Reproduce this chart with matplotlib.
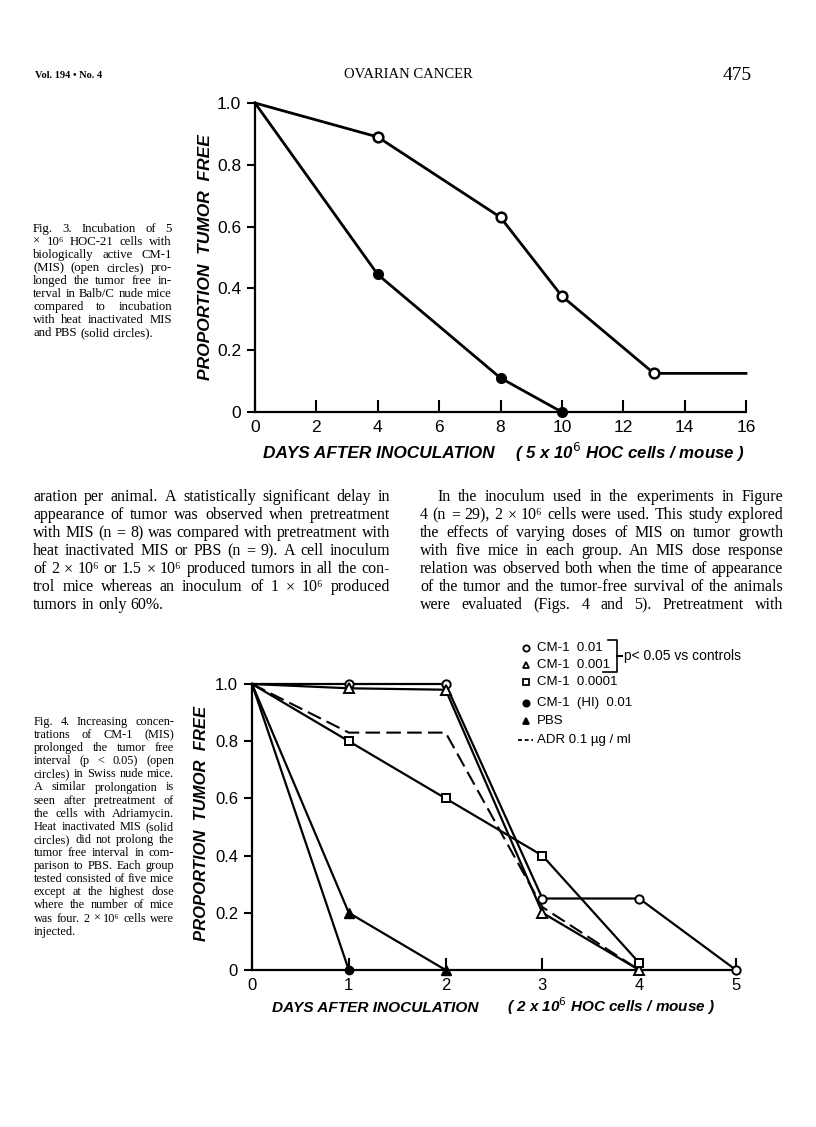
import matplotlib
matplotlib.use("Agg")
import matplotlib.pyplot as plt
import matplotlib.transforms as mtransforms

W, H = 816, 1127

# ---------------- data ----------------
# Fig. 3
f3_days_mis = [0, 4, 8, 10, 13, 16]
f3_prop_mis = [1.0, 0.89, 0.63, 0.375, 0.125, 0.125]
f3_days_ctrl = [0, 4, 8, 10]
f3_prop_ctrl = [1.0, 0.445, 0.11, 0.0]
f3_xticks = [0, 2, 4, 6, 8, 10, 12, 14, 16]

# Fig. 4
f4_days_cm01 = [0, 1, 2, 3, 4, 5]
f4_prop_cm01 = [1.0, 1.0, 1.0, 0.25, 0.25, 0.0]
f4_days_cm001 = [0, 1, 2, 3, 4]
f4_prop_cm001 = [1.0, 0.985, 0.98, 0.2, 0.0]
f4_days_cm0001 = [0, 1, 2, 3, 4]
f4_prop_cm0001 = [1.0, 0.8, 0.6, 0.4, 0.025]
f4_days_hi = [0, 1]
f4_prop_hi = [1.0, 0.0]
f4_days_pbs = [0, 1, 2]
f4_prop_pbs = [1.0, 0.2, 0.0]
f4_days_adr = [0, 1, 2, 3, 4]
f4_prop_adr = [1.0, 0.83, 0.83, 0.22, 0.0]
f4_xticks = [0, 1, 2, 3, 4, 5]

yticks = [0, 0.2, 0.4, 0.6, 0.8, 1.0]
ytick_labels = ["0", "0.2", "0.4", "0.6", "0.8", "1.0"]

legend_labels = ["CM-1  0.01", "CM-1  0.001", "CM-1  0.0001",
                 "CM-1  (HI)  0.01", "PBS", "ADR 0.1 \u00b5g / ml"]
brace_label = "p< 0.05 vs controls"

ylab = "PROPORTION  TUMOR  FREE"
xlab_main = "DAYS AFTER INOCULATION"
xlab3_note = "( 5 x 10$^{6}$ HOC cells / mouse )"
xlab4_note = "( 2 x 10$^{6}$ HOC cells / mouse )"

body_left = [
    "aration per animal. A statistically significant delay in",
    "appearance of tumor was observed when pretreatment",
    "with MIS (n = 8) was compared with pretreatment with",
    "heat inactivated MIS or PBS (n = 9). A cell inoculum",
    "of 2 \u00d7 10\u2076 or 1.5 \u00d7 10\u2076 produced tumors in all the con-",
    "trol mice whereas an inoculum of 1 \u00d7 10\u2076 produced",
    "tumors in only 60%.",
]
body_right = [
    "In the inoculum used in the experiments in Figure",
    "4 (n = 29), 2 \u00d7 10\u2076 cells were used. This study explored",
    "the effects of varying doses of MIS on tumor growth",
    "with five mice in each group. An MIS dose response",
    "relation was observed both when the time of appearance",
    "of the tumor and the tumor-free survival of the animals",
    "were evaluated (Figs. 4 and 5). Pretreatment with",
]
cap3 = [
    "Fig. 3. Incubation of 5",
    "\u00d7 10\u2076 HOC-21 cells with",
    "biologically active CM-1",
    "(MIS) (open circles) pro-",
    "longed the tumor free in-",
    "terval in Balb/C nude mice",
    "compared to incubation",
    "with heat inactivated MIS",
    "and PBS (solid circles).",
]
cap4 = [
    "Fig. 4. Increasing concen-",
    "trations of CM-1 (MIS)",
    "prolonged the tumor free",
    "interval (p < 0.05) (open",
    "circles) in Swiss nude mice.",
    "A similar prolongation is",
    "seen after pretreatment of",
    "the cells with Adriamycin.",
    "Heat inactivated MIS (solid",
    "circles) did not prolong the",
    "tumor free interval in com-",
    "parison to PBS. Each group",
    "tested consisted of five mice",
    "except at the highest dose",
    "where the number of mice",
    "was four. 2 \u00d7 10\u2076 cells were",
    "injected.",
]

# ---------------- figure ----------------
fig = plt.figure(figsize=(W / 100, H / 100), dpi=100)
fig.patch.set_facecolor("white")
PX = mtransforms.Affine2D().scale(1 / W, -1 / H).translate(0, 1) + fig.transFigure
SERIF = ["Liberation Serif", "DejaVu Serif"]
SANS = ["Liberation Sans", "DejaVu Sans"]


def ax_rect(x0, y0, x1, y1):
    return [x0 / W, 1 - y1 / H, (x1 - x0) / W, (y1 - y0) / H]


def style_axes(ax, xlim, xticks, tick_size):
    ax.set_xlim(*xlim)
    ax.set_ylim(0, 1.0)
    for s in ["top", "right"]:
        ax.spines[s].set_visible(False)
    for s in ["left", "bottom"]:
        ax.spines[s].set_linewidth(1.6)
    ax.set_xticks(xticks)
    ax.set_xticklabels([str(t) for t in xticks], family=SANS, fontsize=tick_size)
    ax.set_yticks(yticks)
    ax.set_yticklabels(ytick_labels, family=SANS, fontsize=tick_size)
    ax.tick_params(axis="x", direction="in", length=9, width=1.5, pad=6)
    ax.tick_params(axis="y", direction="out", length=6, width=1.5, pad=4)
    ax.set_facecolor("none")


LABKW = dict(transform=PX, family=SANS, fontweight="bold", style="italic")

# ---------- Fig 3 ----------
ax3 = fig.add_axes(ax_rect(255, 103, 746, 412))
style_axes(ax3, (0, 16), f3_xticks, 12.5)
ax3.plot(f3_days_mis, f3_prop_mis, color="black", lw=2.0, marker="o", ms=7,
         mfc="white", mec="black", mew=1.8, markevery=[1, 2, 3, 4], clip_on=False, zorder=3)
ax3.plot(f3_days_ctrl, f3_prop_ctrl, color="black", lw=2.0, marker="o", ms=7,
         mfc="black", mec="black", markevery=[1, 2, 3], clip_on=False, zorder=3)
fig.text(205, 257, ylab, rotation=90, ha="center", va="center", fontsize=12.5, **LABKW)
fig.text(263, 454, xlab_main, ha="left", va="center", fontsize=12.4, **LABKW)
fig.text(745, 452, xlab3_note, ha="right", va="center", fontsize=12.2, **LABKW)

# ---------- Fig 4 ----------
ax4 = fig.add_axes(ax_rect(252, 684, 736, 970))
style_axes(ax4, (0, 5), f4_xticks, 12)
kw = dict(color="black", lw=1.6, clip_on=False, zorder=3)
ax4.plot(f4_days_cm01, f4_prop_cm01, marker="o", ms=6, mfc="white", mec="black",
         mew=1.4, markevery=[1, 2, 3, 4, 5], **kw)
ax4.plot(f4_days_cm001, f4_prop_cm001, marker="^", ms=6.5, mfc="white", mec="black",
         mew=1.4, markevery=[1, 2, 3, 4], **kw)
ax4.plot(f4_days_cm0001, f4_prop_cm0001, marker="s", ms=6, mfc="white", mec="black",
         mew=1.4, markevery=[1, 2, 3, 4], **kw)
ax4.plot(f4_days_hi, f4_prop_hi, marker="o", ms=6, mfc="black", mec="black",
         markevery=[1], **kw)
ax4.plot(f4_days_pbs, f4_prop_pbs, marker="^", ms=7, mfc="black", mec="black",
         markevery=[1, 2], **kw)
ax4.plot(f4_days_adr, f4_prop_adr, color="black", lw=1.5, ls=(0, (7, 3)),
         clip_on=False, zorder=2)
fig.text(202, 823, ylab, rotation=90, ha="center", va="center", fontsize=12, **LABKW)
fig.text(272, 1008, xlab_main, ha="left", va="center", fontsize=11.1, **LABKW)
fig.text(715, 1006, xlab4_note, ha="right", va="center", fontsize=11, **LABKW)

# legend for Fig 4
leg_ys = [648, 665, 682, 703, 721, 740]
leg_mk = [("o", "white"), ("^", "white"), ("s", "white"), ("o", "black"), ("^", "black"), (None, None)]
mk_x, tx_x = 526, 537
for (m, fc), lab, y in zip(leg_mk, legend_labels, leg_ys):
    if m is None:
        fig.add_artist(plt.Line2D([(mk_x - 8) / W, (mk_x + 7) / W], [1 - y / H, 1 - y / H],
                                  transform=fig.transFigure, color="black", lw=1.3,
                                  ls=(0, (2.2, 1.5))))
        fig.text(tx_x, y, lab, transform=PX, family=SANS, fontsize=9.5,
                 va="center", ha="left")
    else:
        fig.add_artist(plt.Line2D([mk_x / W], [1 - y / H], transform=fig.transFigure,
                                  marker=m, ms=4.5, mfc=fc, mec="black", mew=1.3, ls="none"))
        fig.text(tx_x, y, lab, transform=PX, family=SANS, fontsize=9.5,
                 va="center", ha="left")
# brace
bx = 617
fig.add_artist(plt.Line2D(
    [x / W for x in [bx - 9, bx, bx, bx + 5, bx, bx, bx - 14]],
    [1 - y / H for y in [640, 640, 656, 656, 656, 672, 672]],
    transform=fig.transFigure, color="black", lw=1.2))
fig.text(bx + 7, 656, brace_label, transform=PX, family=SANS,
         fontsize=10, va="center", ha="left")

# ---------------- page text ----------------
fig.text(35, 75, "Vol. 194 \u2022 No. 4", transform=PX, family=SERIF, fontsize=7.5,
         fontweight="bold", va="center", ha="left")
fig.text(408, 75, "OVARIAN CANCER", transform=PX, family=SERIF, fontsize=10.5,
         va="center", ha="center")
fig.text(752, 75, "475", transform=PX, family=SERIF, fontsize=14,
         va="center", ha="right")

renderer = fig.canvas.get_renderer()


def measure(s, size):
    t = fig.text(0, 0, s, family=SERIF, fontsize=size)
    w = t.get_window_extent(renderer).width
    t.remove()
    return w


def fit_size(lines, width, indent, last_ragged, base=10.0):
    best = 99
    for i, line in enumerate(lines):
        if last_ragged and i == len(lines) - 1:
            continue
        avail = width - (indent if i == 0 else 0)
        best = min(best, base * avail / measure(line, base))
    return best


def justify(lines, x0, x1, y0, dy, last_ragged=True, indent=0, maxsize=20):
    size = min(maxsize, fit_size(lines, x1 - x0, indent, last_ragged) * 0.995)
    sp = measure("x x", size) - measure("xx", size)
    for i, line in enumerate(lines):
        y = y0 + i * dy
        words = line.split()
        lx0 = x0 + (indent if i == 0 else 0)
        widths = [measure(w, size) for w in words]
        if (last_ragged and i == len(lines) - 1) or len(words) == 1:
            gap = sp
        else:
            gap = (x1 - lx0 - sum(widths)) / (len(words) - 1)
        x = lx0
        for w, wd in zip(words, widths):
            fig.text(x, y, w, transform=PX, family=SERIF, fontsize=size,
                     va="center", ha="left")
            x += wd + gap


justify(body_left, 33, 390, 497, 18.0)
justify(body_right, 420, 783, 497, 18.0, last_ragged=False, indent=17)
justify(cap3, 33, 172, 229, 13.0)
justify(cap4, 34, 174, 722, 13.1)

fig.savefig("out.png", dpi=100, facecolor="white")
